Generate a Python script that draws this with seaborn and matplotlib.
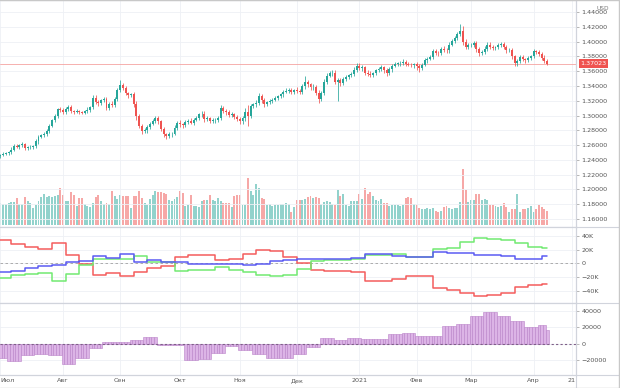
import numpy as np
import pandas as pd
import matplotlib
matplotlib.use("Agg")
import matplotlib.pyplot as plt
import seaborn as sns
from matplotlib.lines import Line2D

sns.set_style("white")
plt.rcParams['font.family'] = ['DejaVu Sans']

# ---------------- data ----------------
first_open = 1.2455
closes = [
    1.2470, 1.2480, 1.2490, 1.2500, 1.2540, 1.2590, 1.2575, 1.2600, 1.2610, 1.2560,
    1.2570, 1.2575, 1.2585, 1.2650, 1.2715, 1.2730, 1.2750, 1.2790, 1.2860, 1.2935,
    1.3000, 1.3085, 1.3075, 1.3050, 1.3090, 1.3115, 1.3060, 1.3050, 1.3060, 1.3045,
    1.3040, 1.3055, 1.3080, 1.3110, 1.3235, 1.3185, 1.3170, 1.3205, 1.3220, 1.3100,
    1.3160, 1.3140, 1.3225, 1.3345, 1.3415, 1.3375, 1.3300, 1.3275, 1.3285, 1.3150,
    1.2990, 1.2860, 1.2790, 1.2800, 1.2845, 1.2890, 1.2925, 1.2960, 1.2920, 1.2820,
    1.2745, 1.2725, 1.2745, 1.2755, 1.2830, 1.2895, 1.2880, 1.2865, 1.2910, 1.2930,
    1.2905, 1.2945, 1.2970, 1.3015, 1.3025, 1.2950, 1.2960, 1.2925, 1.2935, 1.2945,
    1.2970, 1.3100, 1.3060, 1.3045, 1.3010, 1.3020, 1.2985, 1.2950, 1.2920, 1.2960,
    1.3050, 1.2990, 1.3130, 1.3150, 1.3175, 1.3265, 1.3210, 1.3150, 1.3180, 1.3200,
    1.3215, 1.3240, 1.3260, 1.3285, 1.3320, 1.3335, 1.3345, 1.3315, 1.3340, 1.3330,
    1.3320, 1.3395, 1.3450, 1.3420, 1.3380, 1.3390, 1.3310, 1.3230, 1.3300, 1.3460,
    1.3540, 1.3570, 1.3580, 1.3460, 1.3480, 1.3440, 1.3495, 1.3520, 1.3545, 1.3560,
    1.3620, 1.3670, 1.3640, 1.3650, 1.3580, 1.3565, 1.3545, 1.3575, 1.3610, 1.3630,
    1.3650, 1.3610, 1.3575, 1.3625, 1.3670, 1.3695, 1.3705, 1.3715, 1.3730, 1.3700,
    1.3690, 1.3680, 1.3695, 1.3665, 1.3640, 1.3690, 1.3745, 1.3770, 1.3790, 1.3870,
    1.3850, 1.3845, 1.3900, 1.3890, 1.3880, 1.3960, 1.4010, 1.4050, 1.4100, 1.4150,
    1.3995, 1.3930, 1.3950, 1.3960, 1.3975, 1.3900, 1.3850, 1.3860, 1.3900, 1.3960,
    1.3930, 1.3915, 1.3925, 1.3950, 1.3965, 1.3930, 1.3880, 1.3890, 1.3800, 1.3705,
    1.3740, 1.3790, 1.3765, 1.3750, 1.3780, 1.3800, 1.3870, 1.3860, 1.3835, 1.3780,
    1.3740, 1.37023,
]
# wick lengths above / below the candle body, in pips
wick_up = [
    15, 20, 18, 25, 30, 25, 30, 20, 25, 15,
    20, 25, 20, 30, 25, 20, 30, 25, 30, 20,
    25, 20, 35, 30, 25, 30, 25, 20, 25, 20,
    20, 25, 30, 20, 40, 45, 30, 25, 30, 35,
    20, 40, 25, 30, 67, 25, 30, 20, 25, 30,
    40, 30, 25, 35, 30, 25, 30, 37, 30, 25,
    30, 25, 30, 25, 35, 30, 40, 25, 30, 20,
    30, 25, 30, 25, 30, 35, 30, 25, 30, 20,
    25, 40, 30, 25, 30, 30, 20, 25, 30, 35,
    50, 90, 30, 25, 30, 45, 30, 25, 20, 30,
    25, 30, 20, 25, 30, 35, 25, 30, 20, 40,
    30, 35, 90, 30, 25, 30, 25, 30, 35, 30,
    40, 35, 40, 30, 25, 30, 25, 30, 20, 25,
    30, 35, 40, 30, 25, 30, 35, 20, 25, 30,
    30, 25, 30, 25, 30, 35, 25, 20, 30, 25,
    30, 25, 20, 25, 30, 25, 30, 20, 25, 30,
    30, 25, 30, 35, 25, 30, 25, 30, 35, 87,
    60, 40, 30, 25, 35, 30, 25, 30, 35, 30,
    30, 25, 20, 25, 30, 35, 30, 25, 30, 25,
    30, 35, 25, 20, 30, 25, 30, 20, 25, 30,
    35, 20,
]
wick_dn = [
    25, 20, 15, 30, 20, 25, 20, 30, 20, 25,
    20, 25, 30, 20, 30, 25, 20, 30, 25, 20,
    25, 30, 25, 30, 35, 25, 30, 25, 20, 30,
    25, 20, 25, 30, 20, 30, 35, 25, 20, 30,
    30, 25, 20, 25, 30, 30, 25, 35, 30, 40,
    50, 30, 35, 25, 30, 25, 20, 25, 30, 35,
    30, 45, 25, 30, 20, 25, 30, 35, 25, 30,
    25, 30, 20, 25, 30, 35, 30, 25, 30, 35,
    30, 25, 30, 35, 25, 30, 35, 30, 35, 30,
    40, 135, 30, 25, 30, 30, 35, 40, 25, 30,
    25, 20, 30, 25, 30, 20, 25, 30, 25, 30,
    25, 30, 35, 30, 40, 30, 35, 55, 30, 25,
    30, 25, 30, 40, 270, 35, 30, 25, 30, 25,
    30, 25, 30, 40, 35, 30, 25, 30, 25, 20,
    30, 35, 40, 25, 30, 20, 25, 30, 25, 30,
    25, 30, 35, 45, 50, 30, 25, 30, 25, 30,
    30, 35, 25, 30, 35, 30, 25, 30, 25, 30,
    40, 35, 30, 25, 30, 35, 40, 30, 25, 30,
    30, 35, 25, 30, 25, 30, 35, 25, 40, 35,
    30, 25, 30, 35, 25, 30, 25, 30, 35, 30,
    25, 20,
]
volume = [
    22, 21, 21, 22, 23, 23, 27, 21, 21, 28,
    24, 22, 17, 20, 24, 28, 31, 28, 29, 28,
    29, 30, 37, 30, 24, 24, 33, 30, 19, 27,
    27, 21, 19, 18, 22, 28, 30, 24, 21, 22,
    21, 34, 29, 26, 30, 29, 29, 29, 17, 29,
    29, 34, 27, 22, 20, 26, 30, 34, 33, 33,
    32, 31, 25, 24, 26, 28, 34, 32, 19, 20,
    30, 19, 19, 18, 24, 25, 25, 30, 25, 24,
    27, 24, 22, 22, 22, 18, 29, 30, 30, 20,
    20, 47, 34, 30, 41, 37, 27, 26, 20, 21,
    19, 20, 20, 21, 21, 22, 21, 13, 18, 25,
    25, 25, 26, 28, 29, 27, 28, 27, 21, 23,
    24, 23, 21, 20, 35, 29, 31, 20, 19, 24,
    24, 24, 31, 26, 37, 31, 33, 29, 25, 24,
    26, 22, 22, 19, 20, 20, 20, 19, 20, 27,
    28, 27, 21, 20, 17, 16, 16, 17, 16, 17,
    14, 13, 14, 18, 19, 17, 16, 17, 17, 23,
    56, 35, 23, 25, 25, 31, 31, 25, 26, 25,
    20, 20, 19, 18, 19, 22, 18, 13, 16, 16,
    31, 13, 16, 16, 17, 19, 13, 16, 20, 18,
    16, 14,
]
volume = [v * 1000 for v in volume]

# weekly COT net positions (thousands of contracts)
cot_red = [33.5, 28, 23, 20.5, 29, 12, -1, -17, -13.5, -19, -13, -7, -4, 9.5, 12, 12,
           5, 7, 13, 19, 17.5, 8.6, 1, -10, -11, -11.5, -12, -25.5, -25, -23, -18, -18,
           -35.5, -38, -43, -47, -46, -43, -34, -31, -30.5]
cot_green = [-20.7, -17, -15, -14.5, -25.5, -15, -2.5, 5.7, 7, 7, 11, 2.3, 2, -11, -10, -10,
             -5, -10, -13, -17, -18, -17, -8, 4, 4.5, 5.5, 6.5, 12, 12, 13, 9.5, 9.5,
             20.5, 22, 31, 36, 35, 33.5, 29, 24, 21.5]
cot_blue = [-13, -11, -7, -3.5, -2.5, 2.3, 3, 10.5, 8, 13, 2.3, 5, 1.5, 1.5, -1, -1,
            -1.5, -1.5, -2.5, -1, 4, 5, 6, 6, 6.5, 7, 8, 13, 13, 11, 8.5, 8.5,
            15.8, 15.5, 14.5, 12, 12, 11, 7, 7, 10]
# weekly net histogram (thousands)
net_hist = [-17.2, -21.7, -14.3, -12.3, -13.5, -25.4, -17.2, -5.3, 2, 1.7, 4, 8.2, -1.3, -2,
            -19.7, -18.4, -11.5, -2.5, -8.2, -12.3, -17.2, -17, -12.3, -4, 7.3, 4.9, 6.9, 6, 6,
            12.3, 13.5, 9.8, 9.8, 21.6, 24.5, 33.9, 38.8, 33.9, 27.8, 20.4, 23.3]
net_hist_last = 17.2

month_labels = ['Июл', 'Авг', 'Сен', 'Окт', 'Ноя', 'Дек', '2021', 'Фев', 'Мар', 'Апр', '21']
month_bars = [0, 23, 44, 66, 88, 109, 132, 153, 173, 196, 210]
price_ticks = [1.16, 1.18, 1.20, 1.22, 1.24, 1.26, 1.28, 1.30, 1.32, 1.34, 1.36, 1.38, 1.40, 1.42, 1.44]
cot_ticks = [40000, 20000, 0, -20000, -40000]
cot_tick_labels = ['40K', '20K', '0', '\u221220K', '\u221240K']
hist_ticks = [40000, 20000, 0, -20000]
hist_tick_labels = ['40000', '20000', '0', '\u221220000']
last_price = 1.37023

# ---------------- derived ----------------
n = len(closes)
idx = np.arange(n)
c = np.array(closes)
o = np.array([first_open] + closes[:-1])
hi = np.maximum(o, c) + np.array(wick_up) * 1e-4
lo = np.minimum(o, c) - np.array(wick_dn) * 1e-4
up = c >= o
UP, DN = '#26a69a', '#ef5350'
cols = np.where(up, UP, DN)

W, H = 620, 388
fig = plt.figure(figsize=(W / 100, H / 100), dpi=100)
fig.patch.set_facecolor('white')
AXW = 576 / W
ax_main = fig.add_axes([0, (H - 227) / H, AXW, 227 / H])
ax_cot = fig.add_axes([0, (H - 303) / H, AXW, 76 / H])
ax_hist = fig.add_axes([0, (H - 375) / H, AXW, 72 / H])

XL = (-0.15, 211.6)
GRID = '#eef0f5'
FS = 4.6
TXT = '#555555'

# volume on a twin axis (created first, so the price axis can be set up afterwards)
ax_vol = ax_main.twinx()
ax_vol.set_ylim(-2000, 225000)
ax_vol.set_xlim(*XL)
ax_vol.set_yticks([])
for s in ax_vol.spines.values():
    s.set_visible(False)
ax_vol.bar(idx, volume, width=0.72, color=cols, alpha=0.5, linewidth=0)
ax_vol.set_zorder(ax_main.get_zorder() - 1)
ax_main.patch.set_visible(False)

for ax in (ax_main, ax_cot, ax_hist):
    ax.set_xlim(*XL)
    ax.yaxis.tick_right()
    ax.yaxis.set_label_position('right')
    ax.tick_params(axis='y', which='both', left=False, labelleft=False, right=True,
                   labelright=True, length=2.5, width=0.5, color='#9a9a9a',
                   labelsize=FS, labelcolor=TXT, pad=1.5)
    ax.tick_params(axis='x', length=0, labelsize=FS, labelcolor=TXT, pad=2)
    ax.set_xticks(month_bars)
    for s in ax.spines.values():
        s.set_color('#d1d4dc')
        s.set_linewidth(0.8)
    ax.spines['left'].set_visible(False)
    ax.grid(True, color=GRID, lw=0.6)
    ax.set_axisbelow(True)
ax_main.set_xticklabels([])
ax_cot.set_xticklabels([])
ax_hist.set_xticklabels(month_labels)
# first month label sits at the very left edge: anchor it by its left side
ax_hist.get_xticklabels()[0].set_horizontalalignment('left')

# ---- main: candles ----
ax_main.set_ylim(1.14917, 1.4563)
ax_main.set_yticks(price_ticks)
ax_main.set_yticklabels([f'{t:.5f}' for t in price_ticks])
ax_main.axhline(last_price, color='#f5a3a1', lw=0.6, zorder=1)
ax_main.vlines(idx, lo, hi, colors=cols, lw=0.55, zorder=2)
body = np.maximum(np.abs(c - o), 0.0004)
ax_main.bar(idx, body, bottom=np.minimum(o, c), width=0.72, color=cols, linewidth=0, zorder=3)
ax_main.annotate(f'{last_price:.5f}', xy=(1, last_price), xycoords=('axes fraction', 'data'),
                 xytext=(3.2, 0), textcoords='offset points', ha='left', va='center',
                 fontsize=FS, color='white', annotation_clip=False, zorder=10,
                 bbox=dict(boxstyle='square,pad=0.3', fc='#ef5350', ec='none'))
fig.text(603 / W, 1 - 8 / H, 'USD', fontsize=4.2, color='#777777', ha='center', va='center')

# ---- COT lines ----
starts = [5 * k - 1 for k in range(len(cot_red))] + [n - 1]
rows = []
for name, vals in (('red', cot_red), ('green', cot_green), ('blue', cot_blue)):
    vv = list(vals) + [vals[-1]]
    for xx, yy in zip(starts, vv):
        rows.append((name, xx, yy * 1000))
cot_df = pd.DataFrame(rows, columns=['group', 'bar', 'net'])
ax_cot.axhline(0, color='#a0a0a0', lw=0.6, ls=(0, (3, 3)), zorder=1)
sns.lineplot(data=cot_df, x='bar', y='net', hue='group', estimator=None, sort=True,
             palette={'red': '#f45d5d', 'green': '#72ea72', 'blue': '#5b5bf2'},
             drawstyle='steps-post', lw=1.1, legend=False, ax=ax_cot, zorder=3)
ax_cot.set_xlim(*XL)
ax_cot.set_ylim(-57400, 52600)
ax_cot.set_yticks(cot_ticks)
ax_cot.set_yticklabels(cot_tick_labels)
ax_cot.set_xlabel('')
ax_cot.set_ylabel('')

# ---- net histogram ----
hist_daily = np.array([net_hist[(i + 2) // 5] for i in idx]) * 1000
hist_daily[-1] = net_hist_last * 1000
ax_hist.bar(idx, hist_daily, width=1.0, color='#dcb4e6', edgecolor='#b982c8', linewidth=0.4, zorder=2)
ax_hist.axhline(0, color='#7e5f88', lw=0.8, ls=(0, (2, 2)), zorder=3)
ax_hist.set_ylim(-38400, 49800)
ax_hist.set_yticks(hist_ticks)
ax_hist.set_yticklabels(hist_tick_labels)

# ---- frame lines ----
LC = '#d1d4dc'
for yy in (227, 303, 375):
    fig.add_artist(Line2D([0, 1], [1 - yy / H] * 2, color=LC, lw=0.8))
fig.add_artist(Line2D([AXW, AXW], [0, 1], color=LC, lw=0.8))
fig.add_artist(Line2D([0, 1], [0.999, 0.999], color='#c8c8c8', lw=1.0))
fig.add_artist(Line2D([0, 1], [0.001, 0.001], color='#c8c8c8', lw=1.0))
fig.add_artist(Line2D([0.999, 0.999], [0, 1], color='#c8c8c8', lw=1.0))

fig.savefig('out.png', dpi=100, facecolor='white')
